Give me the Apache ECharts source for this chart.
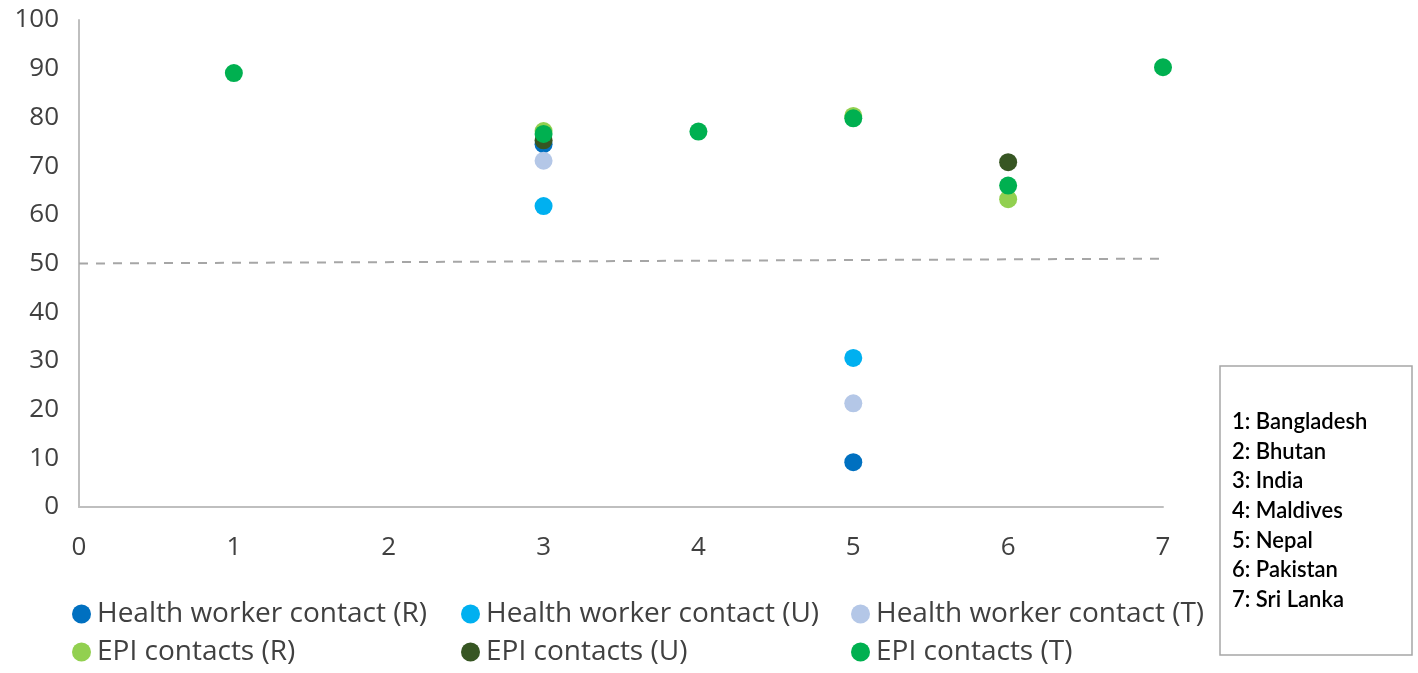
<!DOCTYPE html>
<html>
<head>
<meta charset="utf-8">
<script src="https://cdn.jsdelivr.net/npm/echarts@6/dist/echarts.min.js"></script>
<style>
  html, body { margin: 0; padding: 0; background: #fff; }
  #main { width: 1418px; height: 673px; }
</style>
</head>
<body>
<div id="main"></div>
<script>
// 国家编号
var countries = ["1: Bangladesh", "2: Bhutan", "3: India", "4: Maldives", "5: Nepal", "6: Pakistan", "7: Sri Lanka"];

// 各系列 x（国家编号）与 y（百分比）
var hwRx = [3, 5],           hwRy = [74.5, 9.2];
var hwUx = [3, 5],           hwUy = [61.8, 30.6];
var hwTx = [3, 5],           hwTy = [71.1, 21.3];
var epiRx = [3, 5, 6],       epiRy = [77.2, 80.3, 63.2];
var epiUx = [3, 6],          epiUy = [75.3, 70.8];
var epiTx = [1, 3, 4, 5, 6, 7], epiTy = [89.1, 76.6, 77.1, 79.8, 66.0, 90.3];

// 虚线（50%参考线）
var refX = [0, 7], refY = [50, 51];

var names = ["Health worker contact (R)", "Health worker contact (U)", "Health worker contact (T)",
             "EPI contacts (R)", "EPI contacts (U)", "EPI contacts (T)"];
var colors = ["#0070C0", "#00B0F0", "#B4C7E7", "#92D050", "#375623", "#00B050"];

function pairs(xs, ys) {
  var out = [];
  for (var i = 0; i < xs.length; i++) out.push([xs[i], ys[i]]);
  return out;
}

var seriesData = [pairs(hwRx, hwRy), pairs(hwUx, hwUy), pairs(hwTx, hwTy),
                  pairs(epiRx, epiRy), pairs(epiUx, epiUy), pairs(epiTx, epiTy)];

var myChart = echarts.init(document.getElementById('main'));

var series = [];
series.push({
  name: "ref",
  type: 'line',
  data: pairs(refX, refY),
  symbol: 'none',
  silent: true,
  lineStyle: { color: '#A6A6A6', width: 2, type: [9, 8] },
  z: 1
});
for (var i = 0; i < names.length; i++) {
  series.push({
    name: names[i],
    type: 'scatter',
    data: seriesData[i],
    symbolSize: 18,
    itemStyle: { color: colors[i], opacity: 1 },
    z: 2 + i
  });
}

// 图例：两行三列，每项单独定位
var legendLeft = [72, 461, 851];
var legendTop = [600, 638];
var legends = [];
for (var j = 0; j < names.length; j++) {
  legends.push({
    data: [{ name: names[j], icon: 'circle' }],
    left: legendLeft[j % 3],
    top: legendTop[Math.floor(j / 3)],
    itemWidth: 19,
    itemHeight: 19,
    itemGap: 0,
    padding: 0,
    textStyle: { color: '#404040', fontSize: 28, fontFamily: 'Open Sans', padding: [0, 0, 0, 1] }
  });
}

var boxLines = countries.join("\n");

var option = {
  animation: false,
  grid: { left: 79, right: 255, top: 20, bottom: 166, containLabel: false },
  xAxis: {
    type: 'value',
    min: 0, max: 7, interval: 1,
    axisLine: { show: true, lineStyle: { color: '#BFBFBF', width: 2 } },
    axisTick: { show: false },
    splitLine: { show: false },
    axisLabel: { color: '#404040', fontSize: 26, fontFamily: 'Open Sans', margin: 28 }
  },
  yAxis: {
    type: 'value',
    min: 0, max: 100, interval: 10,
    axisLine: { show: true, lineStyle: { color: '#BFBFBF', width: 2 } },
    axisTick: { show: false },
    splitLine: { show: false },
    axisLabel: { color: '#404040', fontSize: 26, fontFamily: 'Open Sans', margin: 20 }
  },
  legend: legends,
  graphic: [
    {
      type: 'rect',
      shape: { x: 1220, y: 366, width: 192, height: 289 },
      style: { fill: '#fff', stroke: '#A6A6A6', lineWidth: 1.5 }
    },
    {
      type: 'text',
      left: 1232,
      top: 407,
      style: {
        text: boxLines,
        fill: '#000',
        font: '600 22px Lato',
        lineHeight: 29.7
      }
    }
  ],
  series: series
};

myChart.setOption(option);
</script>
</body>
</html>
